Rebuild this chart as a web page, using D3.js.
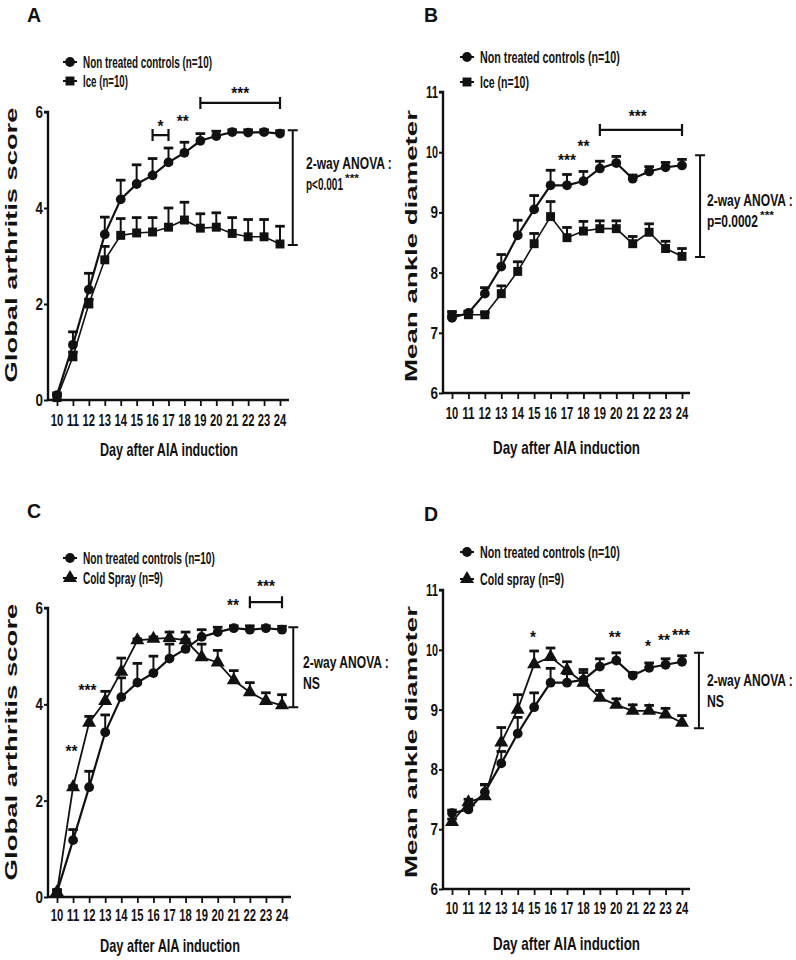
<!DOCTYPE html>
<html><head><meta charset="utf-8">
<script src="https://cdn.jsdelivr.net/npm/d3@7"></script>
<style>
html,body{margin:0;padding:0;background:#fff;}
text{font-family:"Liberation Sans Narrow","Arial Narrow","Liberation Sans",Arial,sans-serif;font-weight:bold;fill:#111;}
</style></head>
<body><svg id="c" width="796" height="960"></svg>
<script>
// ---------- data ----------
const days = [10,11,12,13,14,15,16,17,18,19,20,21,22,23,24];

const scoreTicks = [0,2,4,6];
const ankleTicks = [6,7,8,9,10,11];

// Panel A: Global arthritis score, control vs ice
const aControl    = [0.1,1.15,2.3,3.45,4.18,4.5,4.68,4.95,5.15,5.4,5.5,5.58,5.57,5.58,5.55];
const aControlErr = [0.05,0.27,0.34,0.36,0.4,0.4,0.35,0.3,0.22,0.15,0.1,0.05,0.06,0.05,0.06];
const aIce        = [0.05,0.9,2.0,2.92,3.43,3.48,3.5,3.6,3.75,3.58,3.6,3.47,3.4,3.4,3.25];
const aIceErr     = [0.05,0.1,0.1,0.28,0.35,0.32,0.3,0.4,0.37,0.3,0.3,0.33,0.36,0.36,0.37];

// Panel B: Mean ankle diameter, control vs ice
const bControl    = [7.25,7.33,7.65,8.1,8.62,9.05,9.45,9.45,9.52,9.73,9.82,9.56,9.68,9.75,9.78];
const bControlErr = [0.03,0.03,0.1,0.2,0.25,0.23,0.25,0.18,0.16,0.12,0.11,0.06,0.08,0.08,0.1];
const bIce        = [7.3,7.3,7.3,7.65,8.02,8.48,8.93,8.58,8.69,8.73,8.73,8.48,8.67,8.4,8.27];
const bIceErr     = [0.05,0.05,0.04,0.13,0.16,0.17,0.25,0.17,0.16,0.13,0.13,0.12,0.14,0.12,0.13];

// Panel C: Global arthritis score, control vs cold spray
const cControl    = [0.1,1.18,2.28,3.42,4.15,4.45,4.65,4.95,5.15,5.4,5.5,5.58,5.55,5.58,5.55];
const cControlErr = [0.05,0.22,0.33,0.36,0.4,0.4,0.35,0.3,0.2,0.15,0.1,0.05,0.08,0.05,0.07];
const cCold       = [0.1,2.28,3.62,4.07,4.68,5.33,5.36,5.38,5.33,4.98,4.87,4.5,4.25,4.07,3.98];
const cColdErr    = [0.05,0.03,0.13,0.2,0.28,0.03,0.04,0.12,0.17,0.27,0.25,0.2,0.2,0.17,0.22];

// Panel D: Mean ankle diameter, control vs cold spray
const dControl    = [7.27,7.33,7.62,8.1,8.6,9.04,9.45,9.45,9.5,9.72,9.82,9.57,9.7,9.75,9.8];
const dControlErr = [0.05,0.05,0.12,0.2,0.27,0.24,0.24,0.15,0.17,0.13,0.13,0.05,0.08,0.1,0.1];
const dCold       = [7.12,7.45,7.55,8.45,9.0,9.76,9.88,9.66,9.45,9.2,9.08,8.98,8.98,8.92,8.78];
const dColdErr    = [0.05,0.05,0.2,0.25,0.25,0.22,0.15,0.14,0.17,0.12,0.1,0.1,0.09,0.1,0.12];

// annotations (in data units: day, value)
const aStars = [{d:16.5,v:5.77,t:"*"},{d:17.9,v:5.875,t:"**"},{d:21.5,v:6.46,t:"***"}];
const aHBrackets = [{d0:16,d1:17,v:5.52},{d0:19,d1:24,v:6.19}];
const aVBracket = {d:24.8,v0:5.62,v1:3.23};

const bStars = [{d:17.0,v:9.92,t:"***"},{d:18,v:10.15,t:"**"},{d:21.3,v:10.65,t:"***"}];
const bHBrackets = [{d0:19,d1:24,v:10.37}];
const bVBracket = {d:25.1,v0:9.95,v1:8.26};

const cStars = [{d:10.9,v:3.09,t:"**"},{d:11.9,v:4.36,t:"***"},{d:20.95,v:6.12,t:"**"},{d:23.0,v:6.51,t:"***"}];
const cHBrackets = [{d0:22,d1:24,v:6.12}];
const cVBracket = {d:24.7,v0:5.6,v1:3.94};

const dStars = [{d:14.93,v:10.26,t:"*"},{d:19.9,v:10.26,t:"**"},{d:21.93,v:10.11,t:"*"},{d:22.9,v:10.21,t:"**"},{d:23.94,v:10.30,t:"***"}];
const dHBrackets = [];
const dVBracket = {d:25.03,v0:9.95,v1:8.69};

// ---------- drawing ----------
const svg = d3.select("#c");

// text whose width is fitted to `len` by a horizontal scale (keeps its box true)
function txt(g, s, x, y, size, len, anchor){
  const t = g.append("text").attr("x",0).attr("y",0).attr("font-size",size)
    .attr("text-anchor",anchor||"start").text(s);
  let k = 1;
  if(len){ const w = t.node().getComputedTextLength(); if(w>0) k = len / w; }
  t.attr("transform",`translate(${x},${y}) scale(${k},1)`);
  return t;
}

const symbols = {circle:d3.symbol().type(d3.symbolCircle).size(75),
                 square:d3.symbol().type(d3.symbolSquare).size(80),
                 triangle:d3.symbol().type(d3.symbolTriangle).size(85)};

function panel(cfg){
  const g = svg.append("g");
  const x = d3.scaleLinear().domain([10,24]).range(cfg.xr);
  const y = d3.scaleLinear().domain(cfg.yd).range(cfg.yr);

  // axes
  const yAxis = d3.axisLeft(y).tickValues(cfg.yticks).tickSize(4).tickFormat("");
  const ga = g.append("g").attr("transform",`translate(${cfg.axX},0)`).call(yAxis);
  ga.select(".domain").attr("stroke","#111").attr("stroke-width",2.4).attr("d",`M-4,${y(cfg.yd[1])}H0V${y(cfg.yd[0])}`);
  ga.selectAll(".tick line").attr("stroke","#111").attr("stroke-width",2);
  cfg.yticks.forEach(v=>{
    txt(g, String(v), cfg.axX-5, y(v)+6, 16.5, String(v).length>1?12:7.5, "end");
  });

  const xAxis = d3.axisBottom(x).tickValues(days).tickSize(6).tickFormat("");
  const gb = g.append("g").attr("transform",`translate(0,${y(cfg.yd[0])})`).call(xAxis);
  gb.select(".domain").attr("stroke","#111").attr("stroke-width",2.6).attr("d",`M${cfg.axX},0H${cfg.axEnd}`);
  gb.selectAll(".tick line").attr("stroke","#111").attr("stroke-width",1.8);
  days.forEach(d=>{
    txt(g, String(d), x(d), cfg.tickY, 17, 12.5, "middle");
  });

  // axis titles
  txt(g, "Day after AIA induction", (cfg.titleX0+cfg.titleX1)/2, cfg.titleY, 18, cfg.titleX1-cfg.titleX0, "middle");
  const yt = g.append("text").attr("x",0).attr("y",0)
    .attr("text-anchor","middle").attr("font-size",16.5)
    .style("font-family","'Liberation Sans',Arial,sans-serif")
    .text(cfg.yTitle);
  const yw = yt.node().getComputedTextLength();
  yt.attr("transform",`translate(${cfg.yTitleX},${cfg.yTitleY}) rotate(-90) scale(${cfg.yTitleLen/yw},1)`);

  // panel letter
  txt(g, cfg.letter, cfg.letterX, cfg.letterY, 19.5, null, "start");

  // series
  cfg.series.forEach(s=>{
    const line = d3.line().x((v,i)=>x(days[i])).y(v=>y(v));
    const eb = g.append("g");
    s.values.forEach((v,i)=>{
      const top = y(v+s.err[i]);
      eb.append("line").attr("x1",x(days[i])).attr("x2",x(days[i])).attr("y1",y(v)).attr("y2",top)
        .attr("stroke","#111").attr("stroke-width",2);
      eb.append("line").attr("x1",x(days[i])-4.8).attr("x2",x(days[i])+4.8).attr("y1",top).attr("y2",top)
        .attr("stroke","#111").attr("stroke-width",2.8);
    });
    g.append("path").attr("d",line(s.values)).attr("fill","none").attr("stroke","#111").attr("stroke-width",s.lw||2);
    g.selectAll(null).data(s.values).enter().append("path")
      .attr("d",symbols[s.shape]())
      .attr("transform",(v,i)=>`translate(${x(days[i])},${y(v)})`)
      .attr("fill","#111");
  });

  // legend
  cfg.series.forEach((s,i)=>{
    const ly = cfg.legendY[i];
    g.append("line").attr("x1",cfg.legendX-7).attr("x2",cfg.legendX+7).attr("y1",ly).attr("y2",ly)
      .attr("stroke","#111").attr("stroke-width",2);
    g.append("path").attr("d",symbols[s.shape]()).attr("transform",`translate(${cfg.legendX},${ly})`).attr("fill","#111");
    txt(g, s.name, cfg.legendX+13, ly+6, 16, s.nameLen, "start");
  });

  // annotations
  cfg.stars.forEach(st=>{
    txt(g, st.t, x(st.d), y(st.v)+9, 16, st.t.length*6, "middle");
  });
  cfg.hb.forEach(b=>{
    const yy=y(b.v);
    g.append("path").attr("d",`M${x(b.d0)},${yy-6}V${yy+6}M${x(b.d0)},${yy}H${x(b.d1)}M${x(b.d1)},${yy-6}V${yy+6}`)
      .attr("stroke","#111").attr("stroke-width",2.2).attr("fill","none");
  });
  const vb = cfg.vb, vx = x(vb.d);
  g.append("path").attr("d",`M${vx-5},${y(vb.v0)}H${vx+5}M${vx},${y(vb.v0)}V${y(vb.v1)}M${vx-5},${y(vb.v1)}H${vx+5}`)
    .attr("stroke","#111").attr("stroke-width",2).attr("fill","none");
  txt(g, "2-way ANOVA :", cfg.anovaX, cfg.anovaY, 17, 86, "start");
  txt(g, cfg.pText, cfg.anovaX, cfg.anovaY+21, 17, cfg.pLen, "start");
  if(cfg.pStars){
    txt(g, "***", cfg.anovaX+cfg.pLen+2, cfg.anovaY+13, 11, 14, "start");
  }
}

panel({letter:"A",letterX:27,letterY:22,
  xr:[57,280],yd:[0,6],yr:[400,112],yticks:scoreTicks,axX:48,axEnd:289,
  tickY:426,titleY:456,titleX0:100,titleX1:238,
  yTitle:"Global arthritis score",yTitleX:17,yTitleY:245,yTitleLen:275,
  legendX:70,legendY:[62,81],
  series:[{name:"Non treated controls (n=10)",nameLen:129,shape:"circle",values:aControl,err:aControlErr,lw:2.2},
          {name:"Ice (n=10)",nameLen:45,shape:"square",values:aIce,err:aIceErr,lw:1.6}],
  stars:aStars,hb:aHBrackets,vb:aVBracket,anovaX:306,anovaY:169,pText:"p<0.001",pLen:37,pStars:true});

panel({letter:"B",letterX:424,letterY:22,
  xr:[452,682],yd:[6,11],yr:[393,92],yticks:ankleTicks,axX:443,axEnd:690,
  tickY:419,titleY:454,titleX0:493,titleX1:640,
  yTitle:"Mean ankle diameter",yTitleX:417,yTitleY:246,yTitleLen:272,
  legendX:467,legendY:[57,82],
  series:[{name:"Non treated controls (n=10)",nameLen:140,shape:"circle",values:bControl,err:bControlErr,lw:2.2},
          {name:"Ice (n=10)",nameLen:49,shape:"square",values:bIce,err:bIceErr,lw:1.6}],
  stars:bStars,hb:bHBrackets,vb:bVBracket,anovaX:707,anovaY:206,pText:"p=0.0002",pLen:51,pStars:true});

panel({letter:"C",letterX:27,letterY:518,
  xr:[57,282],yd:[0,6],yr:[897,608],yticks:scoreTicks,axX:48,axEnd:291,
  tickY:921,titleY:952,titleX0:100,titleX1:240,
  yTitle:"Global arthritis score",yTitleX:17,yTitleY:742,yTitleLen:277,
  legendX:70,legendY:[558,578],
  series:[{name:"Non treated controls (n=10)",nameLen:132,shape:"circle",values:cControl,err:cControlErr,lw:2.2},
          {name:"Cold Spray (n=9)",nameLen:80,shape:"triangle",values:cCold,err:cColdErr,lw:1.8}],
  stars:cStars,hb:cHBrackets,vb:cVBracket,anovaX:303,anovaY:668,pText:"NS",pLen:17,pStars:false});

panel({letter:"D",letterX:424,letterY:521,
  xr:[452,682],yd:[6,11],yr:[889,590],yticks:ankleTicks,axX:443,axEnd:690,
  tickY:914,titleY:950,titleX0:493,titleX1:640,
  yTitle:"Mean ankle diameter",yTitleX:417,yTitleY:742,yTitleLen:272,
  legendX:467,legendY:[552,579],
  series:[{name:"Non treated controls (n=10)",nameLen:140,shape:"circle",values:dControl,err:dControlErr,lw:2.2},
          {name:"Cold spray (n=9)",nameLen:84,shape:"triangle",values:dCold,err:dColdErr,lw:1.8}],
  stars:dStars,hb:dHBrackets,vb:dVBracket,anovaX:707,anovaY:686,pText:"NS",pLen:17,pStars:false});
</script>
</body></html>
